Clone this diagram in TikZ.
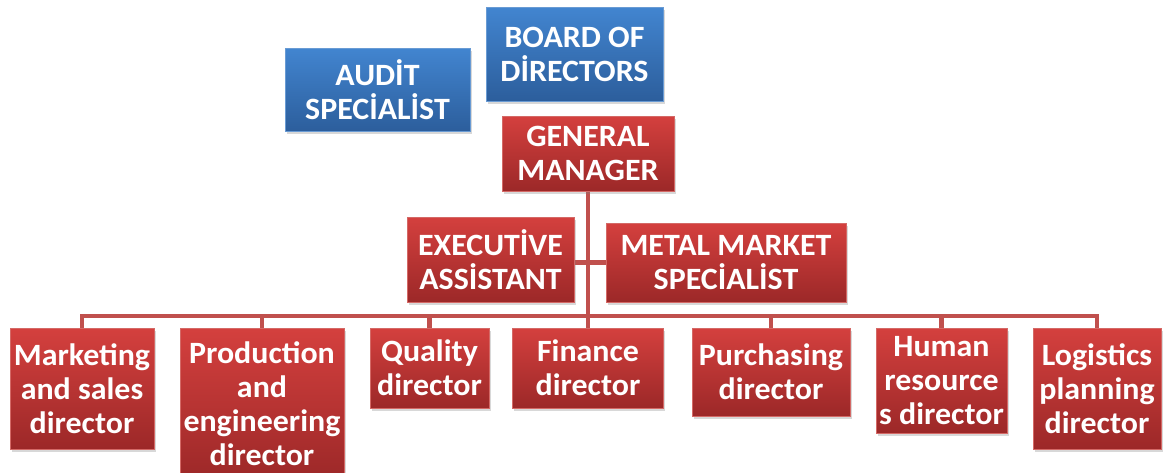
\documentclass[tikz,border=0pt]{standalone}
\usepackage{fontspec}
\setmainfont{Carlito}[FakeStretch=1.03]
\usetikzlibrary{shadows}
\definecolor{redtop}{RGB}{212,64,62}
\definecolor{redbot}{RGB}{156,40,40}
\definecolor{redline}{RGB}{192,80,77}
\definecolor{redborder}{RGB}{212,105,102}
\definecolor{bluetop}{RGB}{66,133,208}
\definecolor{bluebot}{RGB}{44,94,156}
\definecolor{blueborder}{RGB}{105,155,212}
\pgfdeclarelayer{bg}
\pgfsetlayers{bg,main}
\tikzset{
  box/.style={rectangle, inner sep=0pt, align=center, text=white,
    font=\bfseries\fontsize{31}{34}\selectfont, line width=0.8pt,
    drop shadow={opacity=0.3, shadow xshift=1.5pt, shadow yshift=-3pt}},
  redbox/.style={box, draw=redborder, top color=redtop, bottom color=redbot},
  bluebox/.style={box, draw=blueborder, top color=bluetop, bottom color=bluebot},
  link/.style={draw=redline, line width=4.5pt}
}
\begin{document}
\begin{tikzpicture}[x=1pt,y=-1pt]
\useasboundingbox (0,0) rectangle (1163,472);
\clip (0,0) rectangle (1163,472);
% top
\node[bluebox, minimum width=177pt, minimum height=94pt] (board) at (574.5,54) {BOARD OF\\DİRECTORS};
\node[bluebox, minimum width=185pt, minimum height=83pt] (audit) at (377.5,89.5) {AUDİT\\SPECİALİST};
\node[redbox, minimum width=172pt, minimum height=75pt] (gm) at (588,153.5) {GENERAL\\MANAGER};
\node[redbox, minimum width=167pt, minimum height=85pt] (ea) at (490.5,259.5) {EXECUTİVE\\ASSİSTANT};
\node[redbox, minimum width=240pt, minimum height=79pt] (mms) at (726,262.5) {METAL MARKET\\SPECİALİST};
% bottom
\node[redbox, minimum width=144pt, minimum height=121pt] (mkt) at (82,388.5) {Marketing\\and sales\\director};
\node[redbox, minimum width=164pt, minimum height=152pt] (prod) at (262,404) {Production\\and\\engineering\\director};
\node[redbox, minimum width=119pt, minimum height=80pt] (qual) at (429.5,368) {Quality\\director};
\node[redbox, minimum width=151pt, minimum height=80pt] (fin) at (588,368) {Finance\\director};
\node[redbox, minimum width=158pt, minimum height=88pt] (pur) at (771,372) {Purchasing\\director};
\node[redbox, minimum width=131pt, minimum height=105pt] (hr) at (941.5,380.5) {Human\\resource\\s director};
\node[redbox, minimum width=128pt, minimum height=121pt] (log) at (1097,388.5) {Logistics\\planning\\director};
\coordinate (bus) at (0,316);
\begin{pgfonlayer}{bg}
\fill[white] (0,0) rectangle (1163,472);
\draw[link] (gm.south) -- (fin.north);
\draw[link] (ea.east |- mms.west) -- (mms.west);
\draw[link] (mkt.north) -- (mkt.north |- bus) -- (log.north |- bus) -- (log.north);
\foreach \d in {prod,qual,pur,hr}{
  \draw[link] (\d.north) -- (\d.north |- bus);
}
\end{pgfonlayer}
\end{tikzpicture}
\end{document}
